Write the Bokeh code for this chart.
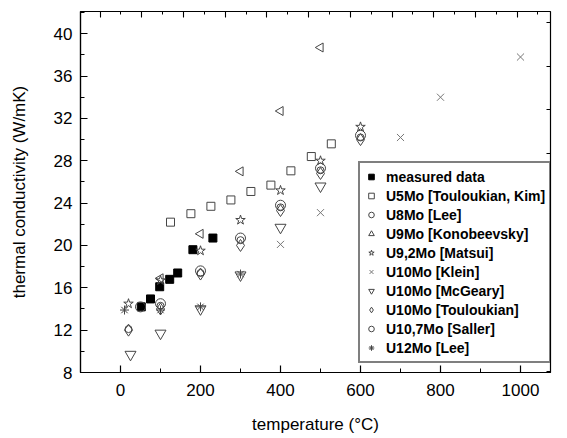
import math
from bokeh.plotting import figure
from bokeh.models import (Range1d, LinearAxis, SingleIntervalTicker, Legend, LegendItem,
                          CustomLabelingPolicy)
from bokeh.embed import file_html
from bokeh.resources import INLINE

# ---- data ----
measured_x = [52, 75, 98, 123, 143, 181, 231]
measured_y = [14.2, 14.95, 16.1, 16.8, 17.4, 19.6, 20.7]

u5mo_x = [125, 176, 226, 276, 326, 376, 426, 477, 527]
u5mo_y = [22.2, 23.0, 23.7, 24.3, 25.1, 25.7, 27.05, 28.4, 29.6]

u8mo_x = [50, 100, 200, 300, 400, 500, 600]
u8mo_y = [14.2, 14.5, 17.6, 20.7, 23.8, 27.3, 30.4]

u9mo_x = [100, 200, 300, 400, 500]
u9mo_y = [16.9, 21.1, 27.0, 32.7, 38.7]

u92mo_x = [20, 100, 200, 300, 400, 500, 600]
u92mo_y = [14.5, 16.7, 19.5, 22.4, 25.2, 28.0, 31.2]

klein_x = [400, 500, 700, 800, 1000]
klein_y = [20.1, 23.1, 30.2, 34.0, 37.8]

mcgeary_x = [25, 100, 200, 300, 400, 500]
mcgeary_y = [9.7, 11.7, 14.0, 17.2, 21.7, 25.6]

toul_x = [20, 100, 200, 300, 400, 500, 600]
toul_y = [12.0, 14.0, 17.3, 20.0, 23.3, 26.8, 30.0]

saller_x = [20, 100, 200, 300, 400, 500, 600]
saller_y = [12.1, 14.3, 17.4, 20.5, 23.6, 27.1, 30.2]

u12mo_x = [10, 100, 200, 300]
u12mo_y = [13.9, 13.9, 14.2, 17.3]

labels = ["measured data", "U5Mo [Touloukian, Kim]", "U8Mo [Lee]", "U9Mo [Konobeevsky]",
          "U9,2Mo [Matsui]", "U10Mo [Klein]", "U10Mo [McGeary]", "U10Mo [Touloukian]",
          "U10,7Mo [Saller]", "U12Mo [Lee]"]

FONT = "Liberation Sans"
GREY = "#454545"

p = figure(width=559, height=438, output_backend="svg", toolbar_location=None,
           x_range=Range1d(-100, 1075), y_range=Range1d(8, 42.1),
           min_border_left=80, min_border_right=2, min_border_top=9, min_border_bottom=66)
p.xgrid.visible = False
p.ygrid.visible = False
p.outline_line_color = "black"
p.outline_line_width = 1.2
p.background_fill_color = "white"
p.border_fill_color = "white"

# main axes
xa = p.xaxis[0]
xa.ticker = SingleIntervalTicker(interval=200, num_minor_ticks=2)
ya = p.yaxis[0]
ya.ticker = SingleIntervalTicker(interval=4, num_minor_ticks=2)
for ax in (xa, ya):
    ax.major_tick_in = 7
    ax.major_tick_out = 0
    ax.minor_tick_in = 4
    ax.minor_tick_out = 0
    ax.axis_line_color = "black"
    ax.axis_line_width = 1.2
    ax.major_tick_line_width = 1.2
    ax.major_label_text_font = FONT
    ax.major_label_text_font_size = "17px"
    ax.major_label_text_color = "black"
    ax.axis_label_text_font = FONT
    ax.axis_label_text_font_size = "17px"
    ax.axis_label_text_font_style = "normal"
    ax.axis_label_text_color = "black"
xa.axis_label = "temperature (°C)"
ya.axis_label = "thermal conductivity (W/mK)"
xa.major_label_standoff = 11
xa.axis_label_standoff = 16
ya.major_label_standoff = 8
ya.axis_label_standoff = 22

# mirror axes (top/right) with their own tick spacing, no labels
no_labels = CustomLabelingPolicy(code="""
const all = [...indices]
for (const i of all) indices.unset(i)
return indices
""")
p.extra_x_ranges = {"top": Range1d(-0.47, 10.8)}
p.extra_y_ranges = {"right": Range1d(-0.03, 8.26)}
top = LinearAxis(x_range_name="top", ticker=SingleIntervalTicker(interval=1, num_minor_ticks=2))
right = LinearAxis(y_range_name="right", ticker=SingleIntervalTicker(interval=1, num_minor_ticks=0))
for ax in (top, right):
    ax.major_tick_in = 6
    ax.major_tick_out = 0
    ax.minor_tick_in = 3
    ax.minor_tick_out = 0
    ax.axis_line_color = None
    ax.major_label_policy = no_labels
    ax.major_label_standoff = 0
    ax.major_tick_line_width = 1.1
right.major_tick_in = 4
p.add_layout(top, "above")
p.add_layout(right, "right")

S = 8
r0 = p.scatter(measured_x, measured_y, marker="square", size=S, fill_color="black", line_color="black")
r1 = p.scatter(u5mo_x, u5mo_y, marker="square", size=S, fill_color=None, line_color=GREY)
r2 = p.scatter(u8mo_x, u8mo_y, marker="circle", size=10, fill_color=None, line_color=GREY)
r3 = p.scatter(x=u9mo_x, y=u9mo_y, marker="triangle", size=S + 1,
               angle=[math.pi / 2] * len(u9mo_x), fill_color=None, line_color=GREY)
r4 = p.scatter(u92mo_x, u92mo_y, marker="star", size=S + 2, fill_color=None, line_color=GREY)
r5 = p.scatter(klein_x, klein_y, marker="x", size=S + 2, line_color="#777777")
r6 = p.scatter(mcgeary_x, mcgeary_y, marker="inverted_triangle", size=S + 3, fill_color=None, line_color=GREY)
r7 = p.scatter(toul_x, toul_y, marker="diamond", size=S + 4, fill_color=None, line_color=GREY)
r8 = p.scatter(saller_x, saller_y, marker="circle", size=7, fill_color=None, line_color=GREY)
r9 = p.scatter(u12mo_x, u12mo_y, marker="asterisk", size=S + 1, line_color=GREY)

renderers = [r0, r1, r2, r3, r4, r5, r6, r7, r8, r9]
items = []
for l, r in zip(labels, renderers):
    if r is r3:
        items.append(LegendItem(label=l, renderers=[r], index=0))
    else:
        items.append(LegendItem(label=l, renderers=[r]))
legend = Legend(items=items, location=(278, 9))
legend.label_text_font = FONT
legend.label_text_font_size = "14px"
legend.label_text_font_style = "bold"
legend.label_text_color = "black"
legend.border_line_color = "black"
legend.border_line_width = 2
legend.background_fill_alpha = 1
legend.padding = 4
legend.spacing = 0
legend.margin = 0
legend.glyph_height = 19
legend.label_height = 19
legend.glyph_width = 14
legend.label_standoff = 8
p.add_layout(legend, "center")

open("out.html", "w").write(file_html(p, INLINE))
